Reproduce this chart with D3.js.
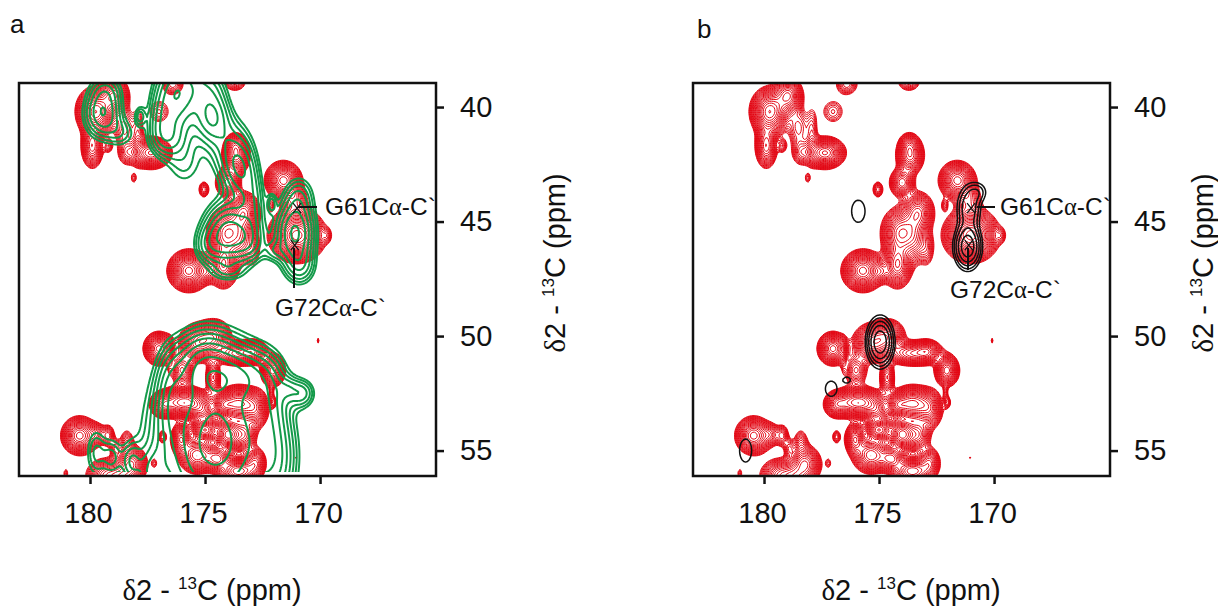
<!DOCTYPE html>
<html>
<head>
<meta charset="utf-8">
<script src="https://cdn.jsdelivr.net/npm/d3@7"></script>
<style>
  body { margin: 0; background: #fff; }
  text { font-family: "Liberation Sans", Arial, sans-serif; fill: #111; }
  .sym { font-family: "Liberation Serif", serif; }
</style>
</head>
<body>
<script>
// peak tables: [ppm x, ppm y, width x, width y, height]
const redPeaks = [
  [179.75,40.2,.4,.5,13],[178.95,39.5,.32,.4,9],[179.9,41.7,.25,.5,7],[179.2,41.7,.12,.2,2.2],
  [178.5,40.9,.3,.55,2.5],[178.4,42.0,.25,.35,2.5],[177.9,41.2,.16,.8,2],[177.35,42.0,.42,.33,12],
  [178.1,43.1,.1,.18,1.6],[177.0,40.2,.35,.38,1.9],[176.4,39.0,.3,.3,3],[173.7,38.9,.3,.25,3],
  [173.65,42.1,.3,.42,9],[173.7,41.6,.22,.25,3],[174.0,43.3,.28,.33,7],[175.05,43.6,.14,.22,3],
  [173.3,44.6,.35,.45,8],[174.05,45.5,.42,.55,10],[173.4,45.8,.3,.6,4],[172.9,46.2,.2,.5,2],
  [174.2,46.9,.32,.5,9],[175.7,47.15,.42,.42,14],[174.9,47.2,.18,.25,2.5],
  [171.6,43.2,.38,.4,11],[171.1,44.1,.35,.45,3],[171.0,45.6,.54,.52,18],[169.7,45.6,.14,.22,1.7],
  [172.15,44.3,.1,.2,1.8],
  [177.0,50.55,.32,.35,11],[175.3,50.3,.42,.42,9],[174.6,50.0,.38,.38,7],[173.5,50.75,.62,.28,8],[172.9,50.65,.28,.26,5],
  [172.05,51.5,.26,.34,10],[174.65,51.8,.18,.38,5],[176.0,51.5,.28,.38,4],[176.55,50.9,.08,.5,1.5],[172.1,52.5,.07,.4,1.5],
  [175.9,52.9,.55,.33,13],[176.85,53.0,.28,.3,6],[173.55,52.95,.45,.38,12],[172.8,53.2,.3,.45,6],[174.2,53.0,.25,.25,6],
  [172.0,52.9,.09,.18,1.8],[175.1,53.3,.3,.3,4],
  [175.0,54.1,.3,.25,9],[174.0,54.3,.3,.35,11],[176.05,54.5,.22,.35,8],[173.3,54.3,.3,.4,5],
  [176.85,54.4,.12,.2,2.4],[175.35,55.2,.4,.4,9],[174.45,55.35,.3,.3,7],[173.55,55.9,.45,.3,9],[172.8,55.5,.25,.35,5],
  [180.45,54.35,.38,.4,11],[179.7,54.3,.22,.28,3.5],[179.2,54.35,.16,.28,3.5],[178.9,54.9,.14,.25,2.4],[178.4,54.7,.2,.4,2.6],
  [178.2,55.6,.34,.4,9],[179.2,56.1,.5,.4,7],[178.6,56.2,.3,.3,4],[177.2,55.55,.1,.18,1.5],[181.05,56.0,.09,.2,1.5],
  [170.1,50.2,.04,.12,1.7],[169.0,50.8,.03,.07,1.5],[171.05,55.3,.04,.05,1.5]
];
const greenPeaks = [
  [179.45,40.3,.55,.72,3.6],[179.3,39.2,.5,.5,1.5],[177.83,40.4,.16,.3,1.7],[178.6,41.2,.45,.45,1.2],
  [176.2,39.4,.6,1.1,4.5],[176.9,40.6,.42,.85,2],[176.6,41.4,.55,.55,1.9],[175.9,42.5,.6,.8,1.3],[174.7,40.4,.5,.8,3.6],[175.0,39,.6,.6,1.6],
  [173.8,42.0,.6,1.0,2.6],[173.4,42.9,.45,.8,2.2],
  [173.95,45.5,.7,.85,5.5],[174.85,46.1,.45,.55,1.5],[173.0,46.0,.45,.6,1.6],[174.0,47.2,.55,.3,1.1],[172.9,44.2,.35,.9,2],
  [172.1,44.2,.13,.3,1.5],[171.09,45.5,.56,.95,5],[170.85,47.0,.45,.55,1.8],[170.9,43.8,.45,.6,1.5],[172.0,46.3,.3,.3,1.1],
  [174.55,54.6,1.55,2.3,9],[175.0,51.3,.8,.9,3.6],[173.4,51.7,.95,.75,3.2],[176.5,52.6,.4,1.2,2],
  [172.2,53.0,.5,1.2,2],[172.0,55.5,.6,1.2,2.5],[170.78,52.5,.38,.42,2.2],[171.4,52.3,.3,.35,1.1],
  [179.75,55.1,.32,.8,1.7],[179.05,55.3,.3,.6,1.6],[178.2,55.5,.3,.6,1.7],[177.3,56,.4,.7,1.8]
];
const blackPeaks = [
  [171.1,44.4,.33,.6,3.2],[170.7,43.7,.3,.3,1.6],[171.15,46.1,.33,.55,7],
  [174.95,50.26,.33,.6,7]
];
const blackMinor = [
  [175.9,44.55,.3,.5,1.6],[177.08,52.3,.26,.34,1.6],[176.4,51.92,.16,.13,1.6],[180.8,55.0,.27,.52,1.6]
];
const g61 = [171.0, 44.41];
const g72 = [171.1, 46.03];
const xTicks = [180, 175, 170];
const yTicks = [40, 45, 50, 55];
const redLevels = d3.range(0, 24).map(k => Math.pow(1.13, k));
const greenLevels = d3.range(0, 9).map(k => Math.pow(1.3, k));
const blackLevels = d3.range(0, 5).map(k => Math.pow(1.5, k));

const W = 417, H = 393;
const x = d3.scaleLinear().domain([183.087, 164.96]).range([0, W]);
const y = d3.scaleLinear().domain([38.95, 56.11]).range([0, H]);

// grid a bit bigger than the frame so the closed contour edge stays hidden
const step = 0.08, gx0 = 183.6, gy0 = 37.8, nx = 240, ny = 250;
const gridX = i => gx0 - (i - 0.5) * step;
const gridY = j => gy0 + (j - 0.5) * step;

function field(peaks) {
  const v = new Float64Array(nx * ny);
  peaks.forEach(p => {
    for (let j = 0; j < ny; j++) {
      const dy = (gridY(j + 0.5) - p[1]) / p[3];
      if (Math.abs(dy) > 5) continue;
      for (let i = 0; i < nx; i++) {
        const dx = (gridX(i + 0.5) - p[0]) / p[2];
        if (Math.abs(dx) > 5) continue;
        v[j * nx + i] += p[4] * Math.exp(-0.5 * (dx * dx + dy * dy));
      }
    }
  });
  return v;
}

const path = d3.geoPath(d3.geoTransform({
  point: function(a, b) { this.stream.point(x(gridX(a)), y(gridY(b))); }
}));

function drawContours(g, peaks, levels, color, width, clip) {
  const sets = d3.contours().size([nx, ny]).smooth(true).thresholds(levels)(field(peaks));
  g.append("g").attr("clip-path", "url(#" + clip + ")")
    .selectAll("path").data(sets).enter().append("path")
    .attr("d", path)
    .attr("fill", "none")
    .attr("stroke", color)
    .attr("stroke-width", width)
    .attr("stroke-linejoin", "round");
}

const svg = d3.select("body").append("svg").attr("width", 1218).attr("height", 606);
const defs = svg.append("defs");
defs.append("clipPath").attr("id", "frameClip").append("rect").attr("width", W).attr("height", H);
defs.append("clipPath").attr("id", "greenClip").append("rect").attr("width", W).attr("height", H - 4);

function axisLabel(t) {
  t.append("tspan").attr("class", "sym").text("δ");
  t.append("tspan").text("2 - ");
  t.append("tspan").attr("font-size", 17).attr("dy", -11).text("13");
  t.append("tspan").attr("dy", 11).text("C (ppm)");
}

function panel(px, letter, letterX, letterY, layers, labelG61, labelG72, g61Line, g72Line, xLabel, yLabel) {
  const g = svg.append("g").attr("transform", "translate(" + px + ",83)");
  layers(g);

  // peak crosses and leader lines
  [g61, g72].forEach(c => {
    g.append("path")
      .attr("d", "M-4,-5L4,5M-4,5L4,-5")
      .attr("transform", "translate(" + x(c[0]) + "," + y(c[1]) + ")")
      .attr("stroke", "#111").attr("fill", "none").attr("stroke-width", 1.2);
  });
  g.append("line").attr("x1", g61Line[0]).attr("x2", g61Line[1]).attr("y1", 124).attr("y2", 124)
    .attr("stroke", "#111").attr("stroke-width", 2);
  g.append("line").attr("x1", g72Line[0]).attr("x2", g72Line[0]).attr("y1", g72Line[1]).attr("y2", g72Line[2])
    .attr("stroke", "#111").attr("stroke-width", 2);

  g.append("rect").attr("width", W).attr("height", H)
    .attr("fill", "none").attr("stroke", "#111").attr("stroke-width", 2.5);

  const xAxis = g.append("g").attr("transform", "translate(0," + H + ")")
    .call(d3.axisBottom(x).tickValues(xTicks).tickSize(8).tickSizeOuter(0).tickPadding(18));
  const yAxis = g.append("g").attr("transform", "translate(" + W + ",0)")
    .call(d3.axisRight(y).tickValues(yTicks).tickSize(8).tickSizeOuter(0).tickPadding(16));
  [xAxis, yAxis].forEach(a => {
    a.select(".domain").remove();
    a.selectAll("line").attr("stroke", "#111").attr("stroke-width", 2.5);
    a.selectAll("text").attr("font-size", 29).attr("font-family", "Liberation Sans").attr("fill", "#111");
  });
  xAxis.selectAll("text").attr("dx", -2);

  g.append("text").attr("x", xLabel).attr("y", 517).attr("font-size", 29).attr("text-anchor", "middle").call(axisLabel);
  g.append("text").attr("transform", "translate(" + yLabel + ",180)rotate(-90)").attr("font-size", 29)
    .attr("text-anchor", "middle").call(axisLabel);

  [labelG61, labelG72].forEach(l => {
    const t = g.append("text").attr("x", l[0]).attr("y", l[1]).attr("font-size", 24.5);
    t.append("tspan").text(l[2]);
    t.append("tspan").attr("class", "sym").text("α");
    t.append("tspan").text("-C`");
  });

  svg.append("text").attr("x", letterX).attr("y", letterY).attr("font-size", 26).text(letter);
}

panel(19, "a", 10, 33, g => {
  drawContours(g, redPeaks, redLevels, "#e30613", 1, "frameClip");
  drawContours(g, greenPeaks, greenLevels, "#149a4a", 2, "greenClip");
}, [306, 132, "G61C"], [256, 233, "G72C"], [279, 298], [275, 165, 205], 193, 546);

panel(693, "b", 697, 38, g => {
  drawContours(g, redPeaks, redLevels, "#e30613", 1, "frameClip");
  drawContours(g, blackPeaks, blackLevels, "#111", 1.5, "frameClip");
  drawContours(g, blackMinor, [1], "#111", 1.5, "frameClip");
}, [307, 132, "G61C"], [257, 215, "G72C"], [284, 302], [275, 165, 187], 218, 520);
</script>
</body>
</html>
